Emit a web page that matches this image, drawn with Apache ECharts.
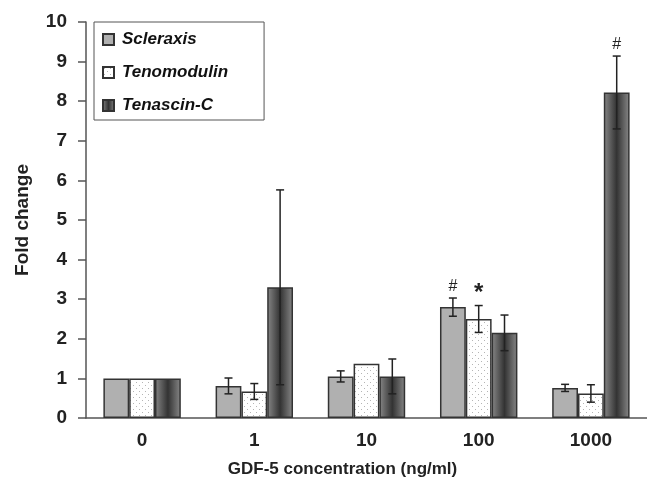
<!DOCTYPE html>
<html>
<head>
<meta charset="utf-8">
<script src="https://cdn.jsdelivr.net/npm/echarts@6/dist/echarts.min.js"></script>
<style>
  html, body { margin: 0; padding: 0; background: #fff; }
  #chart { width: 647px; height: 483px; }
</style>
</head>
<body>
<div id="chart"></div>
<script>
// GDF-5 dose groups
const categories = ["0", "1", "10", "100", "1000"];

// mean fold change per gene
const scleraxis = [1, 0.81, 1.05, 2.8, 0.76];
const tenomodulin = [1, 0.67, 1.37, 2.5, 0.62];
const tenascin = [1, 3.3, 1.05, 2.15, 8.22];

// +/- error
const scleraxisErr = [0, 0.2, 0.14, 0.23, 0.09];
const tenomodulinErr = [0, 0.2, 0, 0.34, 0.22];
const tenascinErr = [0, 2.46, 0.44, 0.45, 0.92];

// significance marks
const scleraxisMarks = ["", "", "", "#", ""];
const tenomodulinMarks = ["", "", "", "*", ""];
const tenascinMarks = ["", "", "", "", "#"];

const FONT = "'Liberation Sans', Arial, sans-serif";
const BAR_FRAC = 0.23; // bar width as share of category

// dotted fill for Tenomodulin
const dots = document.createElement("canvas");
dots.width = 6;
dots.height = 6;
const dctx = dots.getContext("2d");
dctx.fillStyle = "#fff";
dctx.fillRect(0, 0, 6, 6);
dctx.fillStyle = "#b5b5b5";
dctx.fillRect(1, 1, 1, 1);
dctx.fillRect(4, 4, 1, 1);

const tenascinFill = new echarts.graphic.LinearGradient(0, 0, 1, 0, [
  { offset: 0, color: "#888" },
  { offset: 0.5, color: "#333" },
  { offset: 1, color: "#888" },
]);

function barSeries(name, values, fill) {
  return {
    name: name,
    type: "bar",
    data: values,
    barWidth: BAR_FRAC * 100 + "%",
    barGap: "0%",
    itemStyle: { color: fill, borderColor: "#333", borderWidth: 1.5 },
  };
}

// error bars + marks drawn with a custom series
function errorSeries(values, errs, marks, slot) {
  return {
    type: "custom",
    silent: true,
    z: 10,
    data: values.map((v, i) => [i, v, errs[i]]),
    renderItem: (params, api) => {
      const i = api.value(0);
      const v = api.value(1);
      const e = api.value(2);
      const mark = marks[params.dataIndex];
      const catW = api.size([1, 0])[0];
      const off = catW * BAR_FRAC * (slot - 1);
      const hi = api.coord([i, v + e]);
      const lo = api.coord([i, v - e]);
      const x = hi[0] + off;
      const children = [];
      const stroke = { stroke: "#222", lineWidth: 1.5 };
      if (e > 0) {
        children.push(
          { type: "line", shape: { x1: x, y1: hi[1], x2: x, y2: lo[1] }, style: stroke },
          { type: "line", shape: { x1: x - 4, y1: hi[1], x2: x + 4, y2: hi[1] }, style: stroke },
          { type: "line", shape: { x1: x - 4, y1: lo[1], x2: x + 4, y2: lo[1] }, style: stroke }
        );
      }
      if (mark) {
        const star = mark === "*";
        children.push({
          type: "text",
          x: x,
          y: hi[1] - (star ? 0 : 3),
          style: {
            text: mark,
            fill: "#222",
            font: (star ? "bold 24px " : "16px ") + FONT,
            textAlign: "center",
            textVerticalAlign: "bottom",
          },
        });
      }
      return { type: "group", children: children };
    },
  };
}

const chart = echarts.init(document.getElementById("chart"));
chart.setOption({
  animation: false,
  backgroundColor: "#fff",
  grid: { left: 86, right: 0, top: 22, bottom: 65 },
  legend: {
    orient: "vertical",
    left: 94,
    top: 22,
    padding: [9, 36, 6, 8],
    itemGap: 16,
    itemWidth: 11,
    itemHeight: 11,
    icon: "rect",
    borderColor: "#555",
    borderWidth: 1,
    backgroundColor: "#fff",
    data: ["Scleraxis", "Tenomodulin", "Tenascin-C"],
    textStyle: {
      fontFamily: FONT,
      fontSize: 17,
      fontWeight: "bold",
      fontStyle: "italic",
      color: "#111",
      padding: [0, 0, 0, 3],
    },
  },
  xAxis: {
    type: "category",
    data: categories,
    name: "GDF-5 concentration (ng/ml)",
    nameLocation: "middle",
    nameGap: 43,
    nameTextStyle: {
      fontFamily: FONT,
      fontSize: 17,
      fontWeight: "bold",
      color: "#222",
      padding: [0, 48, 0, 0],
    },
    axisLine: { lineStyle: { color: "#555", width: 1.5 } },
    axisTick: { length: 7, lineStyle: { color: "#555", width: 1.5 } },
    axisLabel: {
      margin: 13,
      fontFamily: FONT,
      fontSize: 19,
      fontWeight: "bold",
      color: "#222",
    },
  },
  yAxis: {
    type: "value",
    min: 0,
    max: 10,
    interval: 1,
    name: "Fold change",
    nameLocation: "middle",
    nameGap: 54,
    nameTextStyle: {
      fontFamily: FONT,
      fontSize: 19,
      fontWeight: "bold",
      color: "#222",
    },
    splitLine: { show: false },
    axisLine: { show: true, lineStyle: { color: "#555", width: 1.5 } },
    axisTick: { show: true, length: 8, lineStyle: { color: "#555", width: 1.5 } },
    axisLabel: {
      margin: 19,
      fontFamily: FONT,
      fontSize: 19,
      fontWeight: "bold",
      color: "#222",
    },
  },
  series: [
    barSeries("Scleraxis", scleraxis, "#b0b0b0"),
    barSeries("Tenomodulin", tenomodulin, { image: dots, repeat: "repeat" }),
    barSeries("Tenascin-C", tenascin, tenascinFill),
    errorSeries(scleraxis, scleraxisErr, scleraxisMarks, 0),
    errorSeries(tenomodulin, tenomodulinErr, tenomodulinMarks, 1),
    errorSeries(tenascin, tenascinErr, tenascinMarks, 2),
  ],
});
</script>
</body>
</html>
